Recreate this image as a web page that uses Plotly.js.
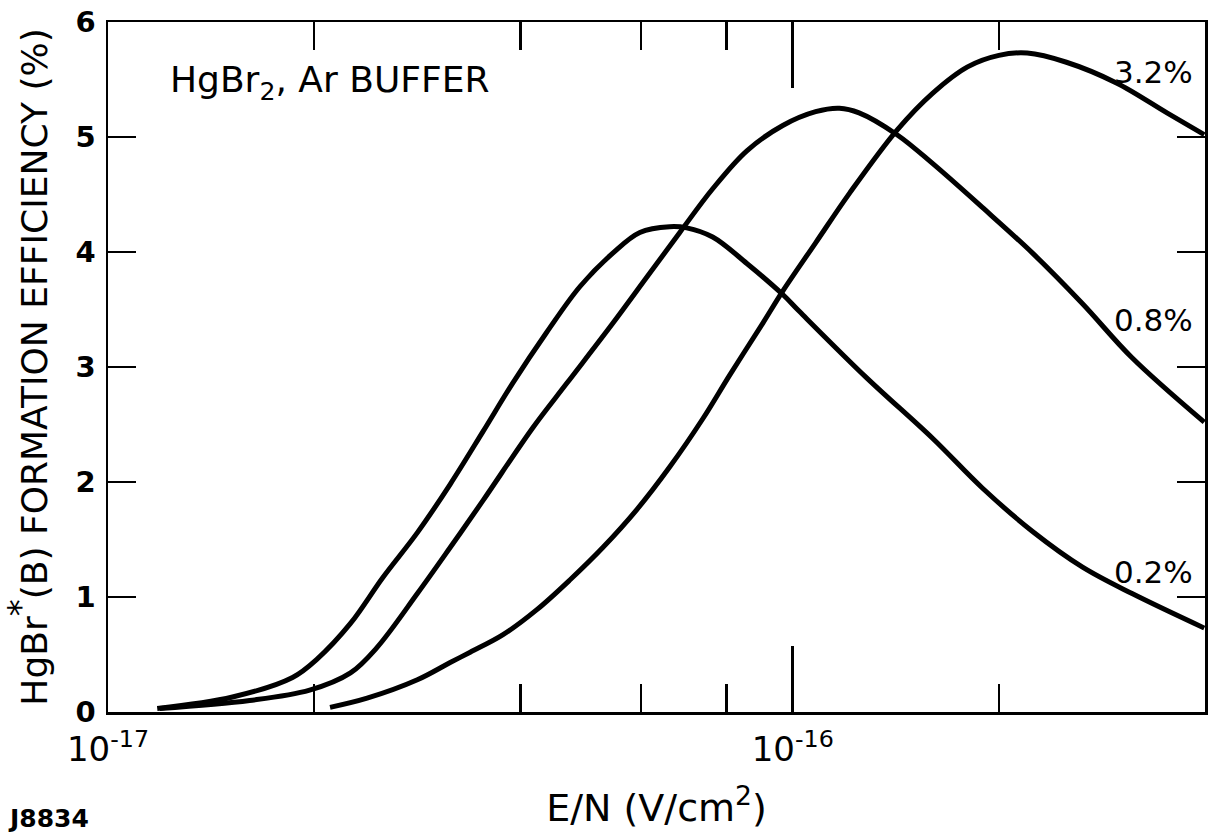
<!DOCTYPE html>
<html>
<head>
<meta charset="utf-8">
<script src="https://cdn.plot.ly/plotly-3.0.1.min.js"></script>
<style>
html,body{margin:0;padding:0;background:#fff;}
#chart{width:1209px;height:840px;}
</style>
</head>
<body>
<div id="chart"></div>
<script>
// E/N values (V/cm^2) and HgBr*(B) formation efficiency (%)
const x02 = [1.18e-17,1.52e-17,1.86e-17,2.02e-17,2.26e-17,2.52e-17,2.83e-17,3.16e-17,3.53e-17,3.90e-17,4.37e-17,4.89e-17,5.46e-17,5.98e-17,6.61e-17,7.00e-17,7.64e-17,8.57e-17,9.67e-17,1.024e-16,1.28e-16,1.60e-16,1.89e-16,2.24e-16,2.65e-16,3.13e-16,3.99e-16];
const y02 = [0.03,0.13,0.30,0.46,0.77,1.17,1.56,1.98,2.44,2.86,3.30,3.70,3.99,4.17,4.22,4.21,4.13,3.90,3.63,3.48,2.91,2.38,1.95,1.57,1.26,1.03,0.73];

const x08 = [1.19e-17,1.61e-17,1.97e-17,2.26e-17,2.47e-17,2.83e-17,3.16e-17,3.53e-17,4.17e-17,4.68e-17,5.46e-17,6.12e-17,6.84e-17,7.64e-17,8.57e-17,9.67e-17,1.08e-16,1.17e-16,1.25e-16,1.42e-16,1.60e-16,1.89e-16,2.24e-16,2.65e-16,3.13e-16,3.99e-16];
const y08 = [0.03,0.10,0.19,0.34,0.56,1.03,1.43,1.84,2.47,2.86,3.38,3.78,4.17,4.55,4.88,5.10,5.22,5.25,5.21,5.02,4.77,4.39,3.99,3.55,3.08,2.52];

const x32 = [2.11e-17,2.39e-17,2.83e-17,3.16e-17,3.38e-17,3.77e-17,4.23e-17,4.73e-17,5.28e-17,5.92e-17,6.61e-17,7.39e-17,8.09e-17,9.04e-17,9.67e-17,1.08e-16,1.21e-16,1.42e-16,1.60e-16,1.80e-16,2.00e-16,2.20e-16,2.51e-16,2.97e-16,3.52e-16,3.99e-16];
const y32 = [0.04,0.12,0.28,0.43,0.52,0.67,0.89,1.15,1.43,1.76,2.13,2.55,2.93,3.38,3.66,4.08,4.51,5.06,5.38,5.61,5.71,5.73,5.65,5.47,5.21,5.02];

const seriesNames = ["0.2%","0.8%","3.2%"];
const xMajorTicks = [1e-17,1e-16];
const xMajorText = ["10<sup>-17</sup>","10<sup>-16</sup>"];
const xMinorTicks = [2e-17,4e-17,6e-17,8e-17,2e-16];
const yTicks = [0,1,2,3,4,5,6];

const FONT = "DejaVu Sans, Liberation Sans, sans-serif";
const lineStyle = {color:"#000", width:5, shape:"spline", smoothing:1.0};

const traces = [
  {x:x02, y:y02, name:seriesNames[0], mode:"lines", line:lineStyle, hoverinfo:"skip"},
  {x:x08, y:y08, name:seriesNames[1], mode:"lines", line:lineStyle, hoverinfo:"skip"},
  {x:x32, y:y32, name:seriesNames[2], mode:"lines", line:lineStyle, hoverinfo:"skip"}
];

const layout = {
  width:1209, height:840,
  margin:{l:108, r:4, t:22, b:128},
  paper_bgcolor:"#fff", plot_bgcolor:"#fff",
  showlegend:false,
  font:{family:FONT, color:"#000"},
  xaxis:{
    type:"log",
    range:[-17, Math.log10(4e-16)],
    tickmode:"array", tickvals:xMajorTicks, ticktext:xMajorText,
    ticks:"inside", ticklen:66, tickwidth:2.5, tickcolor:"#000",
    minor:{tickmode:"array", tickvals:xMinorTicks, ticks:"inside", ticklen:28, tickwidth:2.5, tickcolor:"#000", showgrid:false},
    showline:true, linecolor:"#000", linewidth:2.5, mirror:"ticks",
    showgrid:false, zeroline:false,
    tickfont:{size:34, family:FONT},
    ticklabelstandoff:6,
    title:{text:"E/N (V/cm<sup>2</sup>)", font:{size:38, family:FONT}, standoff:26}
  },
  yaxis:{
    range:[0,6],
    tickmode:"array", tickvals:yTicks,
    ticks:"inside", ticklen:28, tickwidth:2.5, tickcolor:"#000",
    showline:true, linecolor:"#000", linewidth:2.5, mirror:"ticks",
    showgrid:false, zeroline:false,
    tickfont:{size:29, family:FONT, weight:"bold"},
    ticklabelstandoff:4,
    title:{text:"HgBr<sup><span style=\"font-size:34px\">*</span></sup>(B) FORMATION EFFICIENCY (%)", font:{size:36, family:FONT}, standoff:24}
  },
  annotations:[
    {xref:"paper", yref:"paper", x:0.055, y:0.912, xanchor:"left", yanchor:"middle", showarrow:false,
     text:"HgBr<sub>2</sub>, Ar BUFFER", font:{size:36, family:FONT}},
    {xref:"paper", yref:"paper", x:0.953, y:0.928, xanchor:"center", yanchor:"middle", showarrow:false,
     text:"3.2%", font:{size:31, family:FONT}},
    {xref:"paper", yref:"paper", x:0.953, y:0.568, xanchor:"center", yanchor:"middle", showarrow:false,
     text:"0.8%", font:{size:31, family:FONT}},
    {xref:"paper", yref:"paper", x:0.953, y:0.203, xanchor:"center", yanchor:"middle", showarrow:false,
     text:"0.2%", font:{size:31, family:FONT}},
    {xref:"paper", yref:"paper", x:-0.093, y:-0.155, xanchor:"left", yanchor:"middle", showarrow:false,
     text:"J8834", font:{size:25, family:FONT, weight:"bold"}}
  ]
};

Plotly.newPlot("chart", traces, layout, {staticPlot:true, displayModeBar:false});
</script>
</body>
</html>
